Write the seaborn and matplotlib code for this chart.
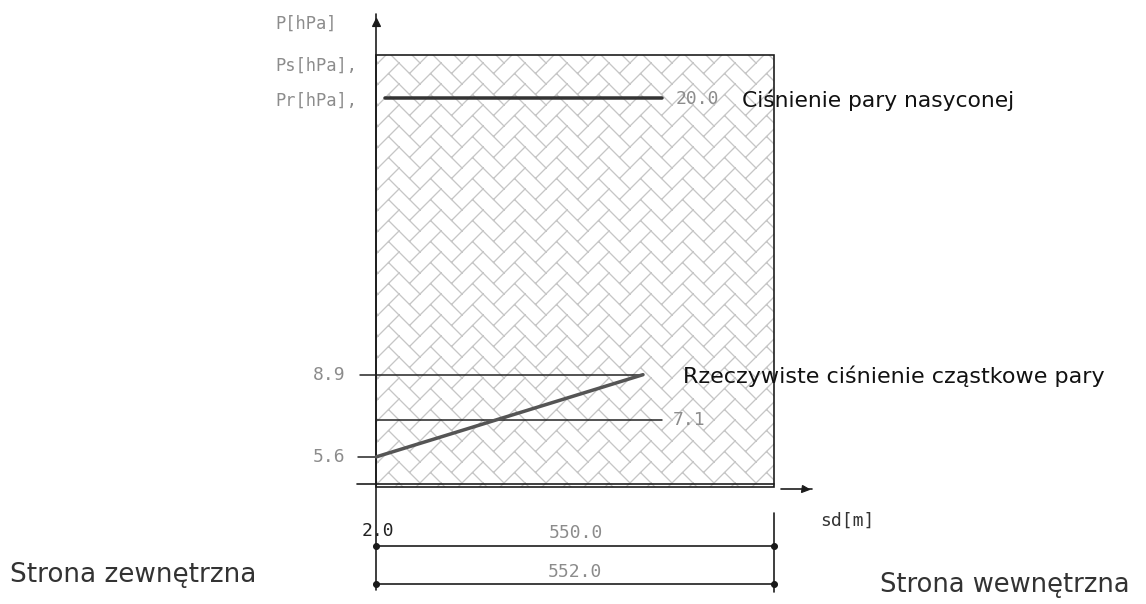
import matplotlib
matplotlib.use("Agg")
import matplotlib.pyplot as plt
import matplotlib.hatch as mhatch
from matplotlib.patches import Rectangle
from matplotlib.path import Path
import numpy as np
import seaborn as sns

# --- values ---
layer_bounds = [0.0, 2.0, 552.0]      # sd [m]: outer face, end of thin layer, inner face
dim_texts = ["2.0", "550.0", "552.0"]
ps_value = 20.0                       # saturation pressure Ps
pr_values = [5.6, 8.9]                # actual partial pressure Pr, outside -> inside
pr_sd = [0.0, 370.0]                  # schematic extent of the Pr line
mid_value = 7.1
line_end_sd = 397.0                   # schematic end of the horizontal lines
tick_values = [5.6, 8.9]
axis_labels = ["P[hPa]", "Ps[hPa],", "Pr[hPa],"]

W, H, DPI = 1146, 604, 84


def fs(px):
    # em size in pixels -> points
    return px * 72 / DPI


def fy(ypx):
    # pixel row -> axes fraction (axes covers the whole figure)
    return 1 - ypx / H


# herringbone hatch (insulation symbol), registered under "x"
def herringbone_edges():
    u = 0.5 / (2 * np.sqrt(2))
    hb = np.array([(0, 0), (2, 0), (2, 1), (0, 1), (0, 0)], float)
    vb = np.array([(0, 1), (1, 1), (1, 3), (0, 3), (0, 1)], float)
    out = []
    for m in range(-8, 12):
        for n in range(-5, 7):
            base = np.array([m + 2 * n, m - 2 * n], float)
            for b in (hb, vb):
                p = b + base
                r = np.column_stack([(p[:, 0] - p[:, 1]), (p[:, 0] + p[:, 1])]) * u / np.sqrt(2)
                if r[:, 0].max() > -0.05 and r[:, 0].min() < 1.05 and r[:, 1].max() > -0.05 and r[:, 1].min() < 1.05:
                    for k in range(4):
                        out.append(r[k:k + 2])
    return out


class Herringbone(mhatch.HatchPatternBase):
    def __init__(self, hatch, density):
        self.edges = herringbone_edges() if "x" in hatch else []
        self.num_vertices = 2 * len(self.edges)

    def set_vertices_and_codes(self, vertices, codes):
        for i, e in enumerate(self.edges):
            vertices[2 * i:2 * i + 2] = e
            codes[2 * i] = Path.MOVETO
            codes[2 * i + 1] = Path.LINETO


mhatch._hatch_types = [Herringbone]

sns.set_style("white")
plt.rcParams["font.family"] = ["DejaVu Sans"]
plt.rcParams["hatch.linewidth"] = 0.8

fig = plt.figure(figsize=((W + 0.4) / DPI, (H + 0.4) / DPI), dpi=DPI)
ax = fig.add_axes([0, 0, 1, 1])
ax.set_axis_off()

# pixel layout: sd=0 at x=376, 0.721 px per m; 5.6 hPa at y=457, 24.9 px per hPa
sx, x0 = 0.721, 376
sy, y0, p0 = 24.9, 457, 5.6
ax.set_xlim(-x0 / sx, (W - x0) / sx)
ax.set_ylim(p0 - (H - y0) / sy, p0 + y0 / sy)


def py(ypx):
    return p0 + (y0 - ypx) / sy


# hatched wall
box_bottom, box_top = py(487), py(55)
ax.add_patch(Rectangle((layer_bounds[0], box_bottom), layer_bounds[-1], box_top - box_bottom,
                       facecolor="white", edgecolor="#c6c6c6", linewidth=0, hatch="x", zorder=1))
ax.add_patch(Rectangle((layer_bounds[0], box_bottom), layer_bounds[-1], box_top - box_bottom,
                       facecolor="none", edgecolor="#1a1a1a", linewidth=1.4, zorder=3))

# axes with arrows
ax.plot([0, 0], [py(590), py(14)], color="#1a1a1a", lw=1.4, zorder=3)
ax.plot([0], [py(22)], marker="^", ms=7, color="#1a1a1a", zorder=4)
ax.plot([(357 - x0) / sx, layer_bounds[-1]], [py(484), py(484)], color="#1a1a1a", lw=1.4, zorder=3)
ax.plot([(781 - x0) / sx, (812 - x0) / sx], [py(489), py(489)], color="#1a1a1a", lw=1.4, zorder=3)
ax.plot([(805 - x0) / sx], [py(489)], marker=">", ms=6, color="#1a1a1a", zorder=4)

# pressure lines
sns.lineplot(x=[(385 - x0) / sx, line_end_sd], y=[ps_value, ps_value], color="#333333", lw=3, ax=ax, zorder=4)
sns.lineplot(x=[(360 - x0) / sx, pr_sd[1]], y=[pr_values[1], pr_values[1]], color="#222222", lw=1.3, ax=ax, zorder=4)
sns.lineplot(x=[0.0, line_end_sd], y=[mid_value, mid_value], color="#222222", lw=1.3, ax=ax, zorder=4)
sns.lineplot(x=[(358 - x0) / sx, 0.0], y=[tick_values[0], tick_values[0]], color="#222222", lw=1.3, ax=ax, zorder=4)
sns.lineplot(x=pr_sd, y=pr_values, color="#555555", lw=3, ax=ax, zorder=5)

gray = "#8c8c8c"
mono = "DejaVu Sans Mono"
ax.text(line_end_sd + 13 / sx, ps_value, f"{ps_value:.1f}", color=gray, family=mono,
        fontsize=fs(18), va="center")
ax.text(line_end_sd + 10 / sx, mid_value, f"{mid_value:.1f}", color=gray, family=mono,
        fontsize=fs(18), va="center")
for v in tick_values:
    ax.text((345 - x0) / sx, v, f"{v:.1f}", color=gray, family=mono, fontsize=fs(18),
            ha="right", va="center")

ax.text(742 / W, fy(107), "Ciśnienie pary nasyconej", transform=ax.transAxes,
        fontsize=fs(21.8), color="#111111", va="baseline")
ax.text(683 / W, fy(383), "Rzeczywiste ciśnienie cząstkowe pary", transform=ax.transAxes,
        fontsize=fs(22.3), color="#111111", va="baseline")

for lab, yb in zip(axis_labels, [29, 71, 106]):
    ax.text(275 / W, fy(yb), lab, transform=ax.transAxes, color=gray, family=mono,
            fontsize=fs(17), va="baseline")

ax.text(820 / W, fy(525), "sd[m]", transform=ax.transAxes, color="#333333", family=mono,
        fontsize=fs(18), va="baseline")

# dimension lines
xt = ax.get_xaxis_transform()
ax.plot([layer_bounds[-1], layer_bounds[-1]], [fy(513), fy(592)], transform=xt, color="#1a1a1a", lw=1.4)
for yline in (546, 584):
    ax.plot([layer_bounds[0], layer_bounds[-1]], [fy(yline), fy(yline)], transform=xt,
            color="#1a1a1a", lw=1.4, marker="o", ms=5)
mid = (layer_bounds[1] + layer_bounds[2]) / 2
ax.text(layer_bounds[1] / 2 + 2, fy(536), dim_texts[0], transform=xt, color="#222222", family=mono,
        fontsize=fs(18), ha="center", va="baseline")
ax.text(mid, fy(538), dim_texts[1], transform=xt, color=gray, family=mono,
        fontsize=fs(18), ha="center", va="baseline")
ax.text(layer_bounds[-1] / 2, fy(577), dim_texts[2], transform=xt, color=gray, family=mono,
        fontsize=fs(18), ha="center", va="baseline")

ax.text(10 / W, fy(582), "Strona zewnętrzna", transform=ax.transAxes, color="#333333",
        fontsize=fs(26.2), va="baseline")
ax.text(880 / W, fy(592), "Strona wewnętrzna", transform=ax.transAxes, color="#333333",
        fontsize=fs(25.8), va="baseline")

fig.savefig("out.png", dpi=DPI)
